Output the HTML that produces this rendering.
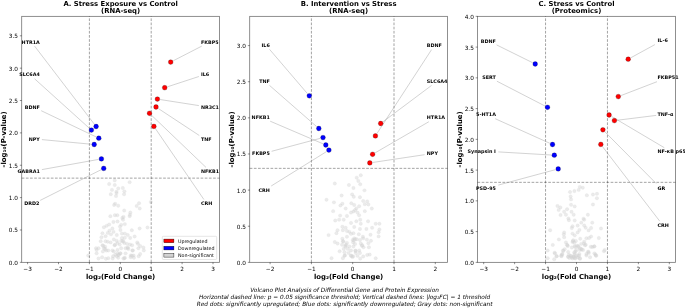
<!DOCTYPE html>
<html lang="en"><head><meta charset="utf-8"><title>Volcano Plot Analysis of Differential Gene and Protein Expression</title>
<style>html,body{margin:0;padding:0;background:#fff;}body{width:685px;height:308px;overflow:hidden;}svg{display:block;}</style>
</head><body>
<svg width="685" height="308" viewBox="0 0 685 308" font-family="'DejaVu Sans', 'Liberation Sans', sans-serif">
<rect width="685" height="308" fill="#fff"/>
<g>
<g fill="#d3d3d3" fill-opacity="0.46" stroke="#d3d3d3" stroke-opacity="0.3" stroke-width="0.5">
<circle cx="114.74" cy="180.39" r="1.72"/>
<circle cx="129.65" cy="182.14" r="1.72"/>
<circle cx="109.18" cy="184.04" r="1.72"/>
<circle cx="114.74" cy="185.06" r="1.72"/>
<circle cx="118.25" cy="188.43" r="1.72"/>
<circle cx="122.78" cy="187.99" r="1.72"/>
<circle cx="111.96" cy="189.89" r="1.72"/>
<circle cx="124.39" cy="191.35" r="1.72"/>
<circle cx="116.49" cy="191.79" r="1.72"/>
<circle cx="116.49" cy="193.11" r="1.72"/>
<circle cx="110.79" cy="194.27" r="1.72"/>
<circle cx="124.09" cy="194.27" r="1.72"/>
<circle cx="116.05" cy="196.03" r="1.72"/>
<circle cx="115.18" cy="203.78" r="1.72"/>
<circle cx="114.15" cy="204.95" r="1.72"/>
<circle cx="118.25" cy="205.68" r="1.72"/>
<circle cx="139.01" cy="203.19" r="1.72"/>
<circle cx="150.85" cy="202.02" r="1.72"/>
<circle cx="136.67" cy="205.97" r="1.72"/>
<circle cx="139.74" cy="208.46" r="1.72"/>
<circle cx="124.24" cy="210.5" r="1.72"/>
<circle cx="130.38" cy="212.55" r="1.72"/>
<circle cx="129.94" cy="214.74" r="1.72"/>
<circle cx="129.65" cy="216.2" r="1.72"/>
<circle cx="114.88" cy="215.18" r="1.72"/>
<circle cx="117.37" cy="215.18" r="1.72"/>
<circle cx="110.35" cy="216.2" r="1.72"/>
<circle cx="123.51" cy="216.94" r="1.72"/>
<circle cx="122.34" cy="217.96" r="1.72"/>
<circle cx="123.07" cy="219.73" r="1.72"/>
<circle cx="113.42" cy="221.92" r="1.72"/>
<circle cx="117.51" cy="221.49" r="1.72"/>
<circle cx="109.18" cy="224.56" r="1.72"/>
<circle cx="106.55" cy="225.87" r="1.72"/>
<circle cx="103.92" cy="227.33" r="1.72"/>
<circle cx="121.17" cy="224.85" r="1.72"/>
<circle cx="124.82" cy="224.12" r="1.72"/>
<circle cx="120" cy="226.6" r="1.72"/>
<circle cx="112.4" cy="228.5" r="1.72"/>
<circle cx="109.47" cy="230.7" r="1.72"/>
<circle cx="120.44" cy="229.96" r="1.72"/>
<circle cx="131.84" cy="230.26" r="1.72"/>
<circle cx="139.59" cy="228.5" r="1.72"/>
<circle cx="147.49" cy="227.48" r="1.72"/>
<circle cx="102.46" cy="233.33" r="1.72"/>
<circle cx="107.72" cy="232.89" r="1.72"/>
<circle cx="110.94" cy="234.35" r="1.72"/>
<circle cx="113.57" cy="231.87" r="1.72"/>
<circle cx="116.78" cy="235.08" r="1.72"/>
<circle cx="121.9" cy="233.62" r="1.72"/>
<circle cx="124.82" cy="233.62" r="1.72"/>
<circle cx="127.75" cy="235.08" r="1.72"/>
<circle cx="134.62" cy="236.54" r="1.72"/>
<circle cx="101.43" cy="237.27" r="1.72"/>
<circle cx="105.53" cy="236.25" r="1.72"/>
<circle cx="130.23" cy="238.01" r="1.72"/>
<circle cx="121.9" cy="238.01" r="1.72"/>
<circle cx="124.82" cy="237.71" r="1.72"/>
<circle cx="100.7" cy="241.22" r="1.72"/>
<circle cx="105.53" cy="241.22" r="1.72"/>
<circle cx="107.72" cy="241.66" r="1.72"/>
<circle cx="110.64" cy="242.39" r="1.72"/>
<circle cx="113.86" cy="239.47" r="1.72"/>
<circle cx="116.78" cy="240.93" r="1.72"/>
<circle cx="121.17" cy="240.93" r="1.72"/>
<circle cx="123.36" cy="241.66" r="1.72"/>
<circle cx="124.39" cy="243.12" r="1.72"/>
<circle cx="117.51" cy="243.12" r="1.72"/>
<circle cx="114.59" cy="245.32" r="1.72"/>
<circle cx="119.71" cy="244.58" r="1.72"/>
<circle cx="127.02" cy="243.85" r="1.72"/>
<circle cx="129.94" cy="244.58" r="1.72"/>
<circle cx="132.13" cy="245.32" r="1.72"/>
<circle cx="137.25" cy="242.39" r="1.72"/>
<circle cx="137.98" cy="243.85" r="1.72"/>
<circle cx="140.18" cy="246.05" r="1.72"/>
<circle cx="143.39" cy="247.51" r="1.72"/>
<circle cx="138.42" cy="248.24" r="1.72"/>
<circle cx="102.46" cy="245.32" r="1.72"/>
<circle cx="105.09" cy="246.78" r="1.72"/>
<circle cx="96.02" cy="248.24" r="1.72"/>
<circle cx="98.51" cy="248.24" r="1.72"/>
<circle cx="96.61" cy="249.99" r="1.72"/>
<circle cx="103.92" cy="248.24" r="1.72"/>
<circle cx="106.26" cy="250.43" r="1.72"/>
<circle cx="108.3" cy="250.43" r="1.72"/>
<circle cx="102.89" cy="251.46" r="1.72"/>
<circle cx="112.4" cy="250.43" r="1.72"/>
<circle cx="113.86" cy="251.46" r="1.72"/>
<circle cx="117.51" cy="249.99" r="1.72"/>
<circle cx="121.17" cy="248.24" r="1.72"/>
<circle cx="125.56" cy="248.24" r="1.72"/>
<circle cx="127.75" cy="247.51" r="1.72"/>
<circle cx="128.48" cy="248.97" r="1.72"/>
<circle cx="132.87" cy="250.43" r="1.72"/>
<circle cx="143.83" cy="250.43" r="1.72"/>
<circle cx="96.61" cy="253.36" r="1.72"/>
<circle cx="88.27" cy="255.55" r="1.72"/>
<circle cx="117.51" cy="253.36" r="1.72"/>
<circle cx="120.44" cy="253.36" r="1.72"/>
<circle cx="118.98" cy="254.82" r="1.72"/>
<circle cx="115.32" cy="254.82" r="1.72"/>
<circle cx="116.78" cy="256.28" r="1.72"/>
<circle cx="113.13" cy="256.28" r="1.72"/>
<circle cx="125.56" cy="253.36" r="1.72"/>
<circle cx="130.67" cy="255.55" r="1.72"/>
<circle cx="133.6" cy="255.55" r="1.72"/>
<circle cx="140.18" cy="254.09" r="1.72"/>
<circle cx="138.71" cy="256.28" r="1.72"/>
<circle cx="98.51" cy="258.47" r="1.72"/>
<circle cx="102.16" cy="257.3" r="1.72"/>
<circle cx="105.82" cy="258.77" r="1.72"/>
<circle cx="108.3" cy="258.18" r="1.72"/>
<circle cx="112.69" cy="258.47" r="1.72"/>
<circle cx="118.25" cy="257.74" r="1.72"/>
<circle cx="123.36" cy="258.47" r="1.72"/>
<circle cx="124.82" cy="257.74" r="1.72"/>
<circle cx="130.67" cy="257.3" r="1.72"/>
<circle cx="133.89" cy="257.74" r="1.72"/>
<circle cx="122.7" cy="240.82" r="1.72"/>
<circle cx="114.98" cy="244.77" r="1.72"/>
<circle cx="127.53" cy="248.11" r="1.72"/>
<circle cx="118.32" cy="254.86" r="1.72"/>
<circle cx="120.25" cy="253.37" r="1.72"/>
<circle cx="105.16" cy="249.16" r="1.72"/>
<circle cx="103.23" cy="245.82" r="1.72"/>
<circle cx="124.46" cy="258.37" r="1.72"/>
<circle cx="131.91" cy="255.74" r="1.72"/>
<circle cx="132.35" cy="250.47" r="1.72"/>
</g>
<g stroke="#000" stroke-opacity="0.5" stroke-width="0.72" stroke-dasharray="2.7 1.46" fill="none">
<line x1="21.7" y1="178.13" x2="219.5" y2="178.13"/>
<line x1="89.4" y1="262.35" x2="89.4" y2="16.35"/>
<line x1="151.2" y1="262.35" x2="151.2" y2="16.35"/>
</g>
<g stroke="#808080" stroke-width="0.35" fill="none">
<line x1="34.6" y1="46.1" x2="94.34" y2="124.2"/>
<line x1="34.6" y1="78.8" x2="89.25" y2="128.16"/>
<line x1="41.2" y1="110.7" x2="96.18" y2="136.95"/>
<line x1="41.9" y1="139.6" x2="91.31" y2="144.23"/>
<line x1="41.9" y1="169.6" x2="98.55" y2="159.41"/>
<line x1="40.2" y1="200.4" x2="101.11" y2="169.71"/>
<line x1="201.8" y1="46.1" x2="173.28" y2="60.77"/>
<line x1="198.9" y1="76.5" x2="167.46" y2="86.8"/>
<line x1="198.9" y1="105.6" x2="160.27" y2="99.55"/>
<line x1="199.3" y1="135.5" x2="158.42" y2="108.59"/>
<line x1="206" y1="167.4" x2="151.59" y2="115.31"/>
<line x1="203.9" y1="199.5" x2="155.54" y2="128.79"/>
</g>
<g stroke="#000" stroke-width="0.3" stroke-opacity="0.7">
<circle cx="96.1" cy="126.5" r="2.4" fill="#0000ff"/>
<circle cx="91.4" cy="130.1" r="2.4" fill="#0000ff"/>
<circle cx="98.8" cy="138.2" r="2.4" fill="#0000ff"/>
<circle cx="94.2" cy="144.5" r="2.4" fill="#0000ff"/>
<circle cx="101.4" cy="158.9" r="2.4" fill="#0000ff"/>
<circle cx="103.7" cy="168.4" r="2.4" fill="#0000ff"/>
<circle cx="170.7" cy="62.1" r="2.4" fill="#ff0000"/>
<circle cx="164.7" cy="87.7" r="2.4" fill="#ff0000"/>
<circle cx="157.4" cy="99.1" r="2.4" fill="#ff0000"/>
<circle cx="156" cy="107" r="2.4" fill="#ff0000"/>
<circle cx="149.5" cy="113.3" r="2.4" fill="#ff0000"/>
<circle cx="153.9" cy="126.4" r="2.4" fill="#ff0000"/>
</g>
<g font-size="4.85" font-weight="bold" fill="#000">
<text x="39.8" y="43.87" text-anchor="end">HTR1A</text>
<text x="39.8" y="75.77" text-anchor="end">SLC6A4</text>
<text x="39.8" y="108.57" text-anchor="end">BDNF</text>
<text x="39.8" y="141.17" text-anchor="end">NPY</text>
<text x="39.8" y="172.77" text-anchor="end">GABRA1</text>
<text x="39.3" y="205.47" text-anchor="end">DRD2</text>
<text x="200.9" y="43.87" text-anchor="start">FKBP5</text>
<text x="200.9" y="75.77" text-anchor="start">IL6</text>
<text x="200.9" y="108.57" text-anchor="start">NR3C1</text>
<text x="200.9" y="140.87" text-anchor="start">TNF</text>
<text x="200.9" y="172.77" text-anchor="start">NFKB1</text>
<text x="200.9" y="205.27" text-anchor="start">CRH</text>
</g>
<rect x="21.7" y="16.35" width="197.8" height="246" fill="none" stroke="#000" stroke-opacity="0.55" stroke-width="0.8"/>
<g stroke="#000" stroke-opacity="0.55" stroke-width="0.8">
<line x1="27.6" y1="262.35" x2="27.6" y2="264.2"/>
<line x1="58.5" y1="262.35" x2="58.5" y2="264.2"/>
<line x1="89.4" y1="262.35" x2="89.4" y2="264.2"/>
<line x1="120.3" y1="262.35" x2="120.3" y2="264.2"/>
<line x1="151.2" y1="262.35" x2="151.2" y2="264.2"/>
<line x1="182.1" y1="262.35" x2="182.1" y2="264.2"/>
<line x1="213" y1="262.35" x2="213" y2="264.2"/>
<line x1="21.7" y1="262.35" x2="19.85" y2="262.35"/>
<line x1="21.7" y1="229.99" x2="19.85" y2="229.99"/>
<line x1="21.7" y1="197.62" x2="19.85" y2="197.62"/>
<line x1="21.7" y1="165.26" x2="19.85" y2="165.26"/>
<line x1="21.7" y1="132.89" x2="19.85" y2="132.89"/>
<line x1="21.7" y1="100.53" x2="19.85" y2="100.53"/>
<line x1="21.7" y1="68.16" x2="19.85" y2="68.16"/>
<line x1="21.7" y1="35.8" x2="19.85" y2="35.8"/>
</g>
<g font-size="5.78" fill="#000">
<text x="27.6" y="270.84" text-anchor="middle">−3</text>
<text x="58.5" y="270.84" text-anchor="middle">−2</text>
<text x="89.4" y="270.84" text-anchor="middle">−1</text>
<text x="120.3" y="270.84" text-anchor="middle">0</text>
<text x="151.2" y="270.84" text-anchor="middle">1</text>
<text x="182.1" y="270.84" text-anchor="middle">2</text>
<text x="213" y="270.84" text-anchor="middle">3</text>
<text x="18" y="264.81" text-anchor="end">0.0</text>
<text x="18" y="232.44" text-anchor="end">0.5</text>
<text x="18" y="200.08" text-anchor="end">1.0</text>
<text x="18" y="167.71" text-anchor="end">1.5</text>
<text x="18" y="135.35" text-anchor="end">2.0</text>
<text x="18" y="102.98" text-anchor="end">2.5</text>
<text x="18" y="70.62" text-anchor="end">3.0</text>
<text x="18" y="38.25" text-anchor="end">3.5</text>
</g>
<g font-size="6.85" font-weight="bold" fill="#000" text-anchor="middle">
<text x="120.6" y="5.6">A. Stress Exposure vs Control</text>
<text x="120.6" y="13.1">(RNA-seq)</text>
<text x="120.6" y="279.3" font-size="6.9">log₂(Fold Change)</text>
<text transform="translate(5.7 139.35) rotate(-90)" font-size="6.9">-log₁₀(P-value)</text>
</g>
</g>
<g>
<g fill="#d3d3d3" fill-opacity="0.46" stroke="#d3d3d3" stroke-opacity="0.3" stroke-width="0.5">
<circle cx="360.75" cy="175.25" r="1.72"/>
<circle cx="356.69" cy="177.69" r="1.72"/>
<circle cx="358.31" cy="180.94" r="1.72"/>
<circle cx="334.77" cy="183.53" r="1.72"/>
<circle cx="348.9" cy="184.99" r="1.72"/>
<circle cx="360.26" cy="184.34" r="1.72"/>
<circle cx="353.44" cy="187.92" r="1.72"/>
<circle cx="364.48" cy="190.35" r="1.72"/>
<circle cx="341.59" cy="195.55" r="1.72"/>
<circle cx="352.14" cy="194.41" r="1.72"/>
<circle cx="353.77" cy="196.84" r="1.72"/>
<circle cx="359.94" cy="197.17" r="1.72"/>
<circle cx="326.49" cy="199.77" r="1.72"/>
<circle cx="333.96" cy="202.36" r="1.72"/>
<circle cx="363.18" cy="200.9" r="1.72"/>
<circle cx="367.24" cy="201.39" r="1.72"/>
<circle cx="342.4" cy="203.66" r="1.72"/>
<circle cx="351.33" cy="203.34" r="1.72"/>
<circle cx="340.45" cy="205.45" r="1.72"/>
<circle cx="354.25" cy="204.96" r="1.72"/>
<circle cx="364.81" cy="204.15" r="1.72"/>
<circle cx="368.38" cy="204.47" r="1.72"/>
<circle cx="359.12" cy="206.26" r="1.72"/>
<circle cx="345.65" cy="208.53" r="1.72"/>
<circle cx="371.79" cy="208.53" r="1.72"/>
<circle cx="356.36" cy="208.53" r="1.72"/>
<circle cx="333.15" cy="211.13" r="1.72"/>
<circle cx="364.81" cy="211.13" r="1.72"/>
<circle cx="355.06" cy="210.16" r="1.72"/>
<circle cx="353.44" cy="211.45" r="1.72"/>
<circle cx="351.01" cy="212.59" r="1.72"/>
<circle cx="357.5" cy="212.59" r="1.72"/>
<circle cx="340.13" cy="215.62" r="1.72"/>
<circle cx="346.95" cy="215.95" r="1.72"/>
<circle cx="359.12" cy="215.3" r="1.72"/>
<circle cx="335.26" cy="220.49" r="1.72"/>
<circle cx="339.16" cy="219.68" r="1.72"/>
<circle cx="343.7" cy="219.68" r="1.72"/>
<circle cx="360.26" cy="219.68" r="1.72"/>
<circle cx="356.36" cy="221.31" r="1.72"/>
<circle cx="368.05" cy="221.31" r="1.72"/>
<circle cx="351.01" cy="222.93" r="1.72"/>
<circle cx="360.75" cy="223.74" r="1.72"/>
<circle cx="375.68" cy="223.74" r="1.72"/>
<circle cx="379.42" cy="223.74" r="1.72"/>
<circle cx="354.25" cy="226.99" r="1.72"/>
<circle cx="342.4" cy="226.66" r="1.72"/>
<circle cx="345.65" cy="227.8" r="1.72"/>
<circle cx="372.11" cy="227.8" r="1.72"/>
<circle cx="359.94" cy="228.94" r="1.72"/>
<circle cx="366.43" cy="228.94" r="1.72"/>
<circle cx="337.53" cy="230.23" r="1.72"/>
<circle cx="342.89" cy="230.23" r="1.72"/>
<circle cx="346.95" cy="231.05" r="1.72"/>
<circle cx="349.38" cy="231.86" r="1.72"/>
<circle cx="379.42" cy="229.42" r="1.72"/>
<circle cx="378.6" cy="232.18" r="1.72"/>
<circle cx="336.4" cy="233.16" r="1.72"/>
<circle cx="351.01" cy="233.81" r="1.72"/>
<circle cx="353.44" cy="233.16" r="1.72"/>
<circle cx="358.8" cy="234.29" r="1.72"/>
<circle cx="370.49" cy="234.78" r="1.72"/>
<circle cx="328.6" cy="235.1" r="1.72"/>
<circle cx="346.95" cy="236.73" r="1.72"/>
<circle cx="362.86" cy="236.73" r="1.72"/>
<circle cx="378.6" cy="236.4" r="1.72"/>
<circle cx="342.4" cy="238.68" r="1.72"/>
<circle cx="354.25" cy="238.35" r="1.72"/>
<circle cx="356.69" cy="239.16" r="1.72"/>
<circle cx="352.63" cy="239.97" r="1.72"/>
<circle cx="359.94" cy="239.97" r="1.72"/>
<circle cx="363.18" cy="238.35" r="1.72"/>
<circle cx="366.92" cy="239.65" r="1.72"/>
<circle cx="370.97" cy="240.79" r="1.72"/>
<circle cx="334.77" cy="242.08" r="1.72"/>
<circle cx="337.53" cy="243.55" r="1.72"/>
<circle cx="343.38" cy="241.6" r="1.72"/>
<circle cx="346.95" cy="242.9" r="1.72"/>
<circle cx="353.12" cy="242.41" r="1.72"/>
<circle cx="355.06" cy="244.03" r="1.72"/>
<circle cx="360.75" cy="243.55" r="1.72"/>
<circle cx="368.38" cy="243.22" r="1.72"/>
<circle cx="342.08" cy="244.84" r="1.72"/>
<circle cx="345.65" cy="245.66" r="1.72"/>
<circle cx="349.38" cy="246.47" r="1.72"/>
<circle cx="353.44" cy="246.47" r="1.72"/>
<circle cx="361.88" cy="245.66" r="1.72"/>
<circle cx="363.51" cy="247.28" r="1.72"/>
<circle cx="368.86" cy="247.28" r="1.72"/>
<circle cx="343.7" cy="248.9" r="1.72"/>
<circle cx="347.76" cy="248.9" r="1.72"/>
<circle cx="351.01" cy="250.53" r="1.72"/>
<circle cx="355.39" cy="250.53" r="1.72"/>
<circle cx="359.12" cy="250.53" r="1.72"/>
<circle cx="339.64" cy="251.34" r="1.72"/>
<circle cx="344.51" cy="252.15" r="1.72"/>
<circle cx="348.57" cy="252.96" r="1.72"/>
<circle cx="355.88" cy="252.96" r="1.72"/>
<circle cx="359.94" cy="252.96" r="1.72"/>
<circle cx="345" cy="255.4" r="1.72"/>
<circle cx="351.01" cy="255.4" r="1.72"/>
<circle cx="353.12" cy="256.53" r="1.72"/>
<circle cx="357.5" cy="255.88" r="1.72"/>
<circle cx="363.18" cy="256.53" r="1.72"/>
<circle cx="367.24" cy="254.91" r="1.72"/>
<circle cx="369.68" cy="254.58" r="1.72"/>
<circle cx="331.53" cy="258.16" r="1.72"/>
<circle cx="342.89" cy="258.16" r="1.72"/>
<circle cx="360.26" cy="258.64" r="1.72"/>
<circle cx="375.68" cy="258.32" r="1.72"/>
<circle cx="355.26" cy="239.33" r="1.72"/>
<circle cx="353.77" cy="240.39" r="1.72"/>
<circle cx="346.05" cy="244.6" r="1.72"/>
<circle cx="345.35" cy="246.7" r="1.72"/>
<circle cx="355.53" cy="251.09" r="1.72"/>
<circle cx="351.14" cy="256" r="1.72"/>
<circle cx="352.37" cy="256.88" r="1.72"/>
<circle cx="344.47" cy="255.74" r="1.72"/>
<circle cx="362.28" cy="245.21" r="1.72"/>
<circle cx="342.98" cy="241.26" r="1.72"/>
</g>
<g stroke="#000" stroke-opacity="0.5" stroke-width="0.72" stroke-dasharray="2.7 1.46" fill="none">
<line x1="249.7" y1="168.35" x2="447.5" y2="168.35"/>
<line x1="311.4" y1="262.35" x2="311.4" y2="16.35"/>
<line x1="394" y1="262.35" x2="394" y2="16.35"/>
</g>
<g stroke="#808080" stroke-width="0.35" fill="none">
<line x1="269.5" y1="49.3" x2="307.41" y2="93.6"/>
<line x1="269.5" y1="85.4" x2="316.62" y2="126.59"/>
<line x1="270.2" y1="121.2" x2="323.13" y2="143.86"/>
<line x1="271.6" y1="151.3" x2="320.2" y2="138.35"/>
<line x1="271.2" y1="186" x2="326.44" y2="151.63"/>
<line x1="431.6" y1="49.6" x2="376.98" y2="133.47"/>
<line x1="431.6" y1="85.4" x2="383.02" y2="121.76"/>
<line x1="428.9" y1="121.7" x2="375.11" y2="152.85"/>
<line x1="424.6" y1="154.7" x2="372.67" y2="162.47"/>
</g>
<g stroke="#000" stroke-width="0.3" stroke-opacity="0.7">
<circle cx="309.3" cy="95.8" r="2.4" fill="#0000ff"/>
<circle cx="318.8" cy="128.5" r="2.4" fill="#0000ff"/>
<circle cx="323" cy="137.6" r="2.4" fill="#0000ff"/>
<circle cx="325.8" cy="145" r="2.4" fill="#0000ff"/>
<circle cx="328.9" cy="150.1" r="2.4" fill="#0000ff"/>
<circle cx="380.7" cy="123.5" r="2.4" fill="#ff0000"/>
<circle cx="375.4" cy="135.9" r="2.4" fill="#ff0000"/>
<circle cx="372.6" cy="154.3" r="2.4" fill="#ff0000"/>
<circle cx="369.8" cy="162.9" r="2.4" fill="#ff0000"/>
</g>
<g font-size="4.85" font-weight="bold" fill="#000">
<text x="269.8" y="46.87" text-anchor="end">IL6</text>
<text x="269.8" y="82.77" text-anchor="end">TNF</text>
<text x="269.8" y="118.77" text-anchor="end">NFKB1</text>
<text x="269.8" y="155.17" text-anchor="end">FKBP5</text>
<text x="269.8" y="191.57" text-anchor="end">CRH</text>
<text x="426.8" y="46.67" text-anchor="start">BDNF</text>
<text x="426.8" y="82.77" text-anchor="start">SLC6A4</text>
<text x="426.8" y="118.77" text-anchor="start">HTR1A</text>
<text x="426.8" y="155.17" text-anchor="start">NPY</text>
</g>
<rect x="249.7" y="16.35" width="197.8" height="246" fill="none" stroke="#000" stroke-opacity="0.55" stroke-width="0.8"/>
<g stroke="#000" stroke-opacity="0.55" stroke-width="0.8">
<line x1="270.1" y1="262.35" x2="270.1" y2="264.2"/>
<line x1="311.4" y1="262.35" x2="311.4" y2="264.2"/>
<line x1="352.7" y1="262.35" x2="352.7" y2="264.2"/>
<line x1="394" y1="262.35" x2="394" y2="264.2"/>
<line x1="435.3" y1="262.35" x2="435.3" y2="264.2"/>
<line x1="249.7" y1="262.35" x2="247.85" y2="262.35"/>
<line x1="249.7" y1="226.23" x2="247.85" y2="226.23"/>
<line x1="249.7" y1="190.1" x2="247.85" y2="190.1"/>
<line x1="249.7" y1="153.98" x2="247.85" y2="153.98"/>
<line x1="249.7" y1="117.85" x2="247.85" y2="117.85"/>
<line x1="249.7" y1="81.73" x2="247.85" y2="81.73"/>
<line x1="249.7" y1="45.6" x2="247.85" y2="45.6"/>
</g>
<g font-size="5.78" fill="#000">
<text x="270.1" y="270.84" text-anchor="middle">−2</text>
<text x="311.4" y="270.84" text-anchor="middle">−1</text>
<text x="352.7" y="270.84" text-anchor="middle">0</text>
<text x="394" y="270.84" text-anchor="middle">1</text>
<text x="435.3" y="270.84" text-anchor="middle">2</text>
<text x="246" y="264.81" text-anchor="end">0.0</text>
<text x="246" y="228.68" text-anchor="end">0.5</text>
<text x="246" y="192.56" text-anchor="end">1.0</text>
<text x="246" y="156.43" text-anchor="end">1.5</text>
<text x="246" y="120.31" text-anchor="end">2.0</text>
<text x="246" y="84.18" text-anchor="end">2.5</text>
<text x="246" y="48.06" text-anchor="end">3.0</text>
</g>
<g font-size="6.85" font-weight="bold" fill="#000" text-anchor="middle">
<text x="348.6" y="5.6">B. Intervention vs Stress</text>
<text x="348.6" y="13.1">(RNA-seq)</text>
<text x="348.6" y="279.3" font-size="6.9">log₂(Fold Change)</text>
<text transform="translate(233.7 139.35) rotate(-90)" font-size="6.9">-log₁₀(P-value)</text>
</g>
</g>
<g>
<g fill="#d3d3d3" fill-opacity="0.46" stroke="#d3d3d3" stroke-opacity="0.3" stroke-width="0.5">
<circle cx="579.82" cy="186.96" r="1.72"/>
<circle cx="582.75" cy="187.7" r="1.72"/>
<circle cx="578.65" cy="189.89" r="1.72"/>
<circle cx="574.42" cy="191.06" r="1.72"/>
<circle cx="570.03" cy="192.08" r="1.72"/>
<circle cx="586.84" cy="195.3" r="1.72"/>
<circle cx="592.98" cy="194.57" r="1.72"/>
<circle cx="596.93" cy="193.84" r="1.72"/>
<circle cx="570.61" cy="196.47" r="1.72"/>
<circle cx="596.93" cy="198.22" r="1.72"/>
<circle cx="571.05" cy="199.39" r="1.72"/>
<circle cx="592.98" cy="204.51" r="1.72"/>
<circle cx="571.05" cy="204.8" r="1.72"/>
<circle cx="574.71" cy="206.41" r="1.72"/>
<circle cx="557.46" cy="205.97" r="1.72"/>
<circle cx="560.38" cy="207.43" r="1.72"/>
<circle cx="567.11" cy="209.19" r="1.72"/>
<circle cx="558.63" cy="209.92" r="1.72"/>
<circle cx="564.18" cy="211.82" r="1.72"/>
<circle cx="571.49" cy="211.82" r="1.72"/>
<circle cx="565.94" cy="214.74" r="1.72"/>
<circle cx="573.68" cy="214.74" r="1.72"/>
<circle cx="560.53" cy="215.04" r="1.72"/>
<circle cx="587.87" cy="214.74" r="1.72"/>
<circle cx="568.42" cy="218.4" r="1.72"/>
<circle cx="583.48" cy="218.69" r="1.72"/>
<circle cx="568.86" cy="220.17" r="1.72"/>
<circle cx="574.71" cy="220.46" r="1.72"/>
<circle cx="584.21" cy="219.73" r="1.72"/>
<circle cx="581.29" cy="222.65" r="1.72"/>
<circle cx="592.25" cy="222.65" r="1.72"/>
<circle cx="577.63" cy="225.58" r="1.72"/>
<circle cx="572.51" cy="226.31" r="1.72"/>
<circle cx="584.21" cy="225.58" r="1.72"/>
<circle cx="571.78" cy="228.06" r="1.72"/>
<circle cx="585.67" cy="227.77" r="1.72"/>
<circle cx="591.08" cy="228.06" r="1.72"/>
<circle cx="601.02" cy="228.5" r="1.72"/>
<circle cx="550.15" cy="230.26" r="1.72"/>
<circle cx="579.39" cy="229.96" r="1.72"/>
<circle cx="588.6" cy="230.4" r="1.72"/>
<circle cx="564.18" cy="232.45" r="1.72"/>
<circle cx="577.63" cy="232.45" r="1.72"/>
<circle cx="563.74" cy="234.35" r="1.72"/>
<circle cx="572.51" cy="233.62" r="1.72"/>
<circle cx="574.71" cy="235.37" r="1.72"/>
<circle cx="564.18" cy="237.27" r="1.72"/>
<circle cx="591.08" cy="236.54" r="1.72"/>
<circle cx="598.83" cy="238.01" r="1.72"/>
<circle cx="558.92" cy="239.47" r="1.72"/>
<circle cx="580.26" cy="238.74" r="1.72"/>
<circle cx="586.4" cy="238.3" r="1.72"/>
<circle cx="589.04" cy="238.01" r="1.72"/>
<circle cx="573.25" cy="240.2" r="1.72"/>
<circle cx="572.51" cy="242.1" r="1.72"/>
<circle cx="565.94" cy="242.39" r="1.72"/>
<circle cx="575.88" cy="240.93" r="1.72"/>
<circle cx="584.21" cy="241.66" r="1.72"/>
<circle cx="581.29" cy="243.85" r="1.72"/>
<circle cx="552.78" cy="244.88" r="1.72"/>
<circle cx="567.4" cy="245.32" r="1.72"/>
<circle cx="574.71" cy="246.05" r="1.72"/>
<circle cx="578.36" cy="246.05" r="1.72"/>
<circle cx="584.94" cy="245.32" r="1.72"/>
<circle cx="590.79" cy="246.78" r="1.72"/>
<circle cx="594.44" cy="246.34" r="1.72"/>
<circle cx="571.78" cy="247.51" r="1.72"/>
<circle cx="581.29" cy="248.97" r="1.72"/>
<circle cx="563.01" cy="250.43" r="1.72"/>
<circle cx="576.17" cy="249.99" r="1.72"/>
<circle cx="579.82" cy="249.99" r="1.72"/>
<circle cx="547.66" cy="250.43" r="1.72"/>
<circle cx="603.95" cy="251.16" r="1.72"/>
<circle cx="604.68" cy="249.99" r="1.72"/>
<circle cx="588.6" cy="251.89" r="1.72"/>
<circle cx="594.44" cy="253.36" r="1.72"/>
<circle cx="554.97" cy="253.36" r="1.72"/>
<circle cx="568.13" cy="251.89" r="1.72"/>
<circle cx="562.28" cy="254.09" r="1.72"/>
<circle cx="574.71" cy="253.36" r="1.72"/>
<circle cx="579.39" cy="254.09" r="1.72"/>
<circle cx="586.4" cy="254.09" r="1.72"/>
<circle cx="595.91" cy="255.55" r="1.72"/>
<circle cx="561.55" cy="256.28" r="1.72"/>
<circle cx="556.43" cy="256.28" r="1.72"/>
<circle cx="568.13" cy="257.01" r="1.72"/>
<circle cx="571.05" cy="256.28" r="1.72"/>
<circle cx="573.98" cy="257.01" r="1.72"/>
<circle cx="577.63" cy="255.55" r="1.72"/>
<circle cx="579.82" cy="258.18" r="1.72"/>
<circle cx="590.06" cy="257.3" r="1.72"/>
<circle cx="547.66" cy="258.18" r="1.72"/>
<circle cx="554.24" cy="259.2" r="1.72"/>
<circle cx="572.51" cy="258.47" r="1.72"/>
<circle cx="575.44" cy="258.47" r="1.72"/>
<circle cx="586.4" cy="255.55" r="1.72"/>
<circle cx="568.86" cy="254.82" r="1.72"/>
<circle cx="568.18" cy="256.61" r="1.72"/>
<circle cx="570.37" cy="255.74" r="1.72"/>
<circle cx="571.68" cy="257.49" r="1.72"/>
<circle cx="573.44" cy="256.61" r="1.72"/>
<circle cx="574.75" cy="257.93" r="1.72"/>
<circle cx="576.07" cy="256.18" r="1.72"/>
<circle cx="577.82" cy="257.49" r="1.72"/>
<circle cx="579.14" cy="255.74" r="1.72"/>
<circle cx="580.02" cy="258.81" r="1.72"/>
<circle cx="569.49" cy="257.93" r="1.72"/>
<circle cx="574.32" cy="254.86" r="1.72"/>
<circle cx="573" cy="241.26" r="1.72"/>
<circle cx="574.32" cy="242.58" r="1.72"/>
<circle cx="576.95" cy="245.65" r="1.72"/>
<circle cx="578.26" cy="246.96" r="1.72"/>
<circle cx="580.02" cy="248.28" r="1.72"/>
<circle cx="581.77" cy="249.6" r="1.72"/>
<circle cx="583.09" cy="250.04" r="1.72"/>
<circle cx="575.19" cy="246.96" r="1.72"/>
<circle cx="566.86" cy="244.77" r="1.72"/>
<circle cx="567.74" cy="246.09" r="1.72"/>
<circle cx="564.67" cy="249.16" r="1.72"/>
<circle cx="563.35" cy="250.91" r="1.72"/>
<circle cx="575.63" cy="251.35" r="1.72"/>
<circle cx="574.32" cy="252.23" r="1.72"/>
<circle cx="585.72" cy="244.77" r="1.72"/>
<circle cx="583.96" cy="243.46" r="1.72"/>
<circle cx="592.3" cy="246.96" r="1.72"/>
<circle cx="594.05" cy="246.53" r="1.72"/>
<circle cx="587.91" cy="251.79" r="1.72"/>
<circle cx="588.79" cy="253.11" r="1.72"/>
<circle cx="595.37" cy="254.42" r="1.72"/>
<circle cx="596.25" cy="255.74" r="1.72"/>
<circle cx="561.16" cy="255.74" r="1.72"/>
<circle cx="562.04" cy="254.42" r="1.72"/>
<circle cx="556.77" cy="256.18" r="1.72"/>
<circle cx="554.58" cy="252.67" r="1.72"/>
</g>
<g stroke="#000" stroke-opacity="0.5" stroke-width="0.72" stroke-dasharray="2.7 1.46" fill="none">
<line x1="477.5" y1="182.34" x2="675.5" y2="182.34"/>
<line x1="545.56" y1="262.35" x2="545.56" y2="16.35"/>
<line x1="607.44" y1="262.35" x2="607.44" y2="16.35"/>
</g>
<g stroke="#808080" stroke-width="0.35" fill="none">
<line x1="496.6" y1="44.9" x2="532.6" y2="62.71"/>
<line x1="496.9" y1="81.2" x2="544.92" y2="105.97"/>
<line x1="495.2" y1="118.7" x2="549.86" y2="143.31"/>
<line x1="498.3" y1="151.9" x2="551.41" y2="155.03"/>
<line x1="498.3" y1="185.1" x2="555.4" y2="169.66"/>
<line x1="654.9" y1="44.6" x2="630.74" y2="57.81"/>
<line x1="657" y1="81.7" x2="621.01" y2="95.56"/>
<line x1="656.2" y1="115.4" x2="617.28" y2="120.24"/>
<line x1="664.3" y1="147.7" x2="611.6" y2="116.48"/>
<line x1="656.2" y1="183.5" x2="604.94" y2="131.86"/>
<line x1="659.7" y1="221.1" x2="602.57" y2="146.7"/>
</g>
<g stroke="#000" stroke-width="0.3" stroke-opacity="0.7">
<circle cx="535.2" cy="64" r="2.4" fill="#0000ff"/>
<circle cx="547.5" cy="107.3" r="2.4" fill="#0000ff"/>
<circle cx="552.5" cy="144.5" r="2.4" fill="#0000ff"/>
<circle cx="554.3" cy="155.2" r="2.4" fill="#0000ff"/>
<circle cx="558.2" cy="168.9" r="2.4" fill="#0000ff"/>
<circle cx="628.2" cy="59.2" r="2.4" fill="#ff0000"/>
<circle cx="618.3" cy="96.6" r="2.4" fill="#ff0000"/>
<circle cx="609.1" cy="115" r="2.4" fill="#ff0000"/>
<circle cx="614.4" cy="120.6" r="2.4" fill="#ff0000"/>
<circle cx="602.9" cy="129.8" r="2.4" fill="#ff0000"/>
<circle cx="600.8" cy="144.4" r="2.4" fill="#ff0000"/>
</g>
<g font-size="4.85" font-weight="bold" fill="#000">
<text x="495.9" y="42.67" text-anchor="end">BDNF</text>
<text x="495.9" y="79.17" text-anchor="end">SERT</text>
<text x="495.9" y="116.17" text-anchor="end">5-HT1A</text>
<text x="495.9" y="153.07" text-anchor="end">Synapsin I</text>
<text x="495.9" y="189.87" text-anchor="end">PSD-95</text>
<text x="657.5" y="42.47" text-anchor="start">IL-6</text>
<text x="657.5" y="79.27" text-anchor="start">FKBP51</text>
<text x="657.5" y="116.07" text-anchor="start">TNF-α</text>
<text x="657.5" y="152.97" text-anchor="start">NF-κB p65</text>
<text x="657.5" y="190.17" text-anchor="start">GR</text>
<text x="657.5" y="226.57" text-anchor="start">CRH</text>
</g>
<rect x="477.5" y="16.35" width="198" height="246" fill="none" stroke="#000" stroke-opacity="0.55" stroke-width="0.8"/>
<g stroke="#000" stroke-opacity="0.55" stroke-width="0.8">
<line x1="483.68" y1="262.35" x2="483.68" y2="264.2"/>
<line x1="514.62" y1="262.35" x2="514.62" y2="264.2"/>
<line x1="545.56" y1="262.35" x2="545.56" y2="264.2"/>
<line x1="576.5" y1="262.35" x2="576.5" y2="264.2"/>
<line x1="607.44" y1="262.35" x2="607.44" y2="264.2"/>
<line x1="638.38" y1="262.35" x2="638.38" y2="264.2"/>
<line x1="669.32" y1="262.35" x2="669.32" y2="264.2"/>
<line x1="477.5" y1="262.35" x2="475.65" y2="262.35"/>
<line x1="477.5" y1="231.6" x2="475.65" y2="231.6"/>
<line x1="477.5" y1="200.85" x2="475.65" y2="200.85"/>
<line x1="477.5" y1="170.1" x2="475.65" y2="170.1"/>
<line x1="477.5" y1="139.35" x2="475.65" y2="139.35"/>
<line x1="477.5" y1="108.6" x2="475.65" y2="108.6"/>
<line x1="477.5" y1="77.85" x2="475.65" y2="77.85"/>
<line x1="477.5" y1="47.1" x2="475.65" y2="47.1"/>
<line x1="477.5" y1="16.35" x2="475.65" y2="16.35"/>
</g>
<g font-size="5.78" fill="#000">
<text x="483.68" y="270.84" text-anchor="middle">−3</text>
<text x="514.62" y="270.84" text-anchor="middle">−2</text>
<text x="545.56" y="270.84" text-anchor="middle">−1</text>
<text x="576.5" y="270.84" text-anchor="middle">0</text>
<text x="607.44" y="270.84" text-anchor="middle">1</text>
<text x="638.38" y="270.84" text-anchor="middle">2</text>
<text x="669.32" y="270.84" text-anchor="middle">3</text>
<text x="473.8" y="264.81" text-anchor="end">0.0</text>
<text x="473.8" y="234.06" text-anchor="end">0.5</text>
<text x="473.8" y="203.31" text-anchor="end">1.0</text>
<text x="473.8" y="172.56" text-anchor="end">1.5</text>
<text x="473.8" y="141.81" text-anchor="end">2.0</text>
<text x="473.8" y="111.06" text-anchor="end">2.5</text>
<text x="473.8" y="80.31" text-anchor="end">3.0</text>
<text x="473.8" y="49.56" text-anchor="end">3.5</text>
<text x="473.8" y="18.81" text-anchor="end">4.0</text>
</g>
<g font-size="6.85" font-weight="bold" fill="#000" text-anchor="middle">
<text x="576.5" y="5.6">C. Stress vs Control</text>
<text x="576.5" y="13.1">(Proteomics)</text>
<text x="576.5" y="279.3" font-size="6.9">log₂(Fold Change)</text>
<text transform="translate(461.5 139.35) rotate(-90)" font-size="6.9">-log₁₀(P-value)</text>
</g>
</g>
<g>
<rect x="162.3" y="236.3" width="54.4" height="23.2" rx="1" ry="1" fill="#fff" fill-opacity="0.8" stroke="#ccc" stroke-width="0.5"/>
<rect x="163.9" y="239.1" width="10" height="3.6" fill="#ff0000" stroke="#000" stroke-width="0.4"/>
<text x="177.9" y="242.65" font-size="4.8" fill="#000">Upregulated</text>
<rect x="163.9" y="246.3" width="10" height="3.6" fill="#0000ff" stroke="#000" stroke-width="0.4"/>
<text x="177.9" y="249.85" font-size="4.8" fill="#000">Downregulated</text>
<rect x="163.9" y="253.5" width="10" height="3.6" fill="#d3d3d3" stroke="#000" stroke-width="0.4"/>
<text x="177.9" y="257.05" font-size="4.8" fill="#000">Non-significant</text>
</g>
<g font-size="5.8" font-style="italic" fill="#000" text-anchor="middle">
<text x="344.6" y="291.5">Volcano Plot Analysis of Differential Gene and Protein Expression</text>
<text x="344.6" y="298.5">Horizontal dashed line: p = 0.05 significance threshold; Vertical dashed lines: |log₂FC| = 1 threshold</text>
<text x="344.6" y="305.5">Red dots: significantly upregulated; Blue dots: significantly downregulated; Gray dots: non-significant</text>
</g>
</svg>
</body></html>
